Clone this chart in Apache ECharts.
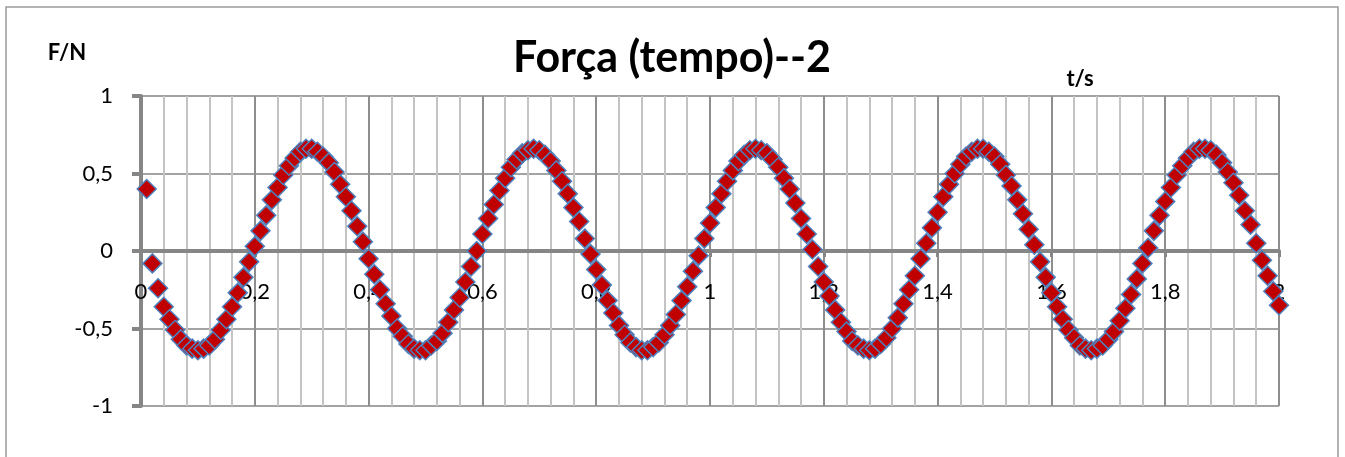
<!DOCTYPE html>
<html>
<head>
<meta charset="utf-8">
<title>Força (tempo)--2</title>
<script src="https://cdn.jsdelivr.net/npm/echarts@6/dist/echarts.min.js"></script>
<style>
  html, body { margin: 0; padding: 0; background: #ffffff; }
  #chart { width: 1345px; height: 457px; }
</style>
</head>
<body>
<div id="chart"></div>
<script>
// Measured force samples (N), one every 0.01 s starting at t = 0.01 s
const sampleStep = 0.01;
const forceValues = [
  0.40, -0.08, -0.24, -0.36, -0.44, -0.51, -0.57, -0.61, -0.63, -0.64,
  -0.63, -0.61, -0.57, -0.51, -0.44, -0.36, -0.27, -0.17, -0.07, 0.03,
  0.13, 0.23, 0.33, 0.41, 0.49, 0.55, 0.60, 0.64, 0.66, 0.66,
  0.64, 0.61, 0.57, 0.51, 0.43, 0.35, 0.26, 0.16, 0.06, -0.05,
  -0.15, -0.25, -0.34, -0.42, -0.50, -0.55, -0.60, -0.63, -0.64, -0.64,
  -0.61, -0.58, -0.53, -0.46, -0.38, -0.30, -0.20, -0.10, 0.00, 0.11,
  0.21, 0.30, 0.39, 0.47, 0.54, 0.59, 0.63, 0.65, 0.66, 0.65,
  0.62, 0.58, 0.52, 0.45, 0.37, 0.28, 0.19, 0.08, -0.02, -0.12,
  -0.22, -0.32, -0.40, -0.48, -0.54, -0.59, -0.62, -0.64, -0.64, -0.62,
  -0.59, -0.54, -0.48, -0.41, -0.32, -0.23, -0.13, -0.03, 0.08, 0.18,
  0.28, 0.37, 0.45, 0.52, 0.58, 0.62, 0.65, 0.66, 0.65, 0.63,
  0.59, 0.54, 0.47, 0.40, 0.31, 0.21, 0.11, 0.01, -0.10, -0.20,
  -0.29, -0.38, -0.46, -0.52, -0.58, -0.61, -0.63, -0.64, -0.63, -0.60,
  -0.56, -0.50, -0.43, -0.34, -0.25, -0.16, -0.05, 0.05, 0.15, 0.25,
  0.35, 0.43, 0.50, 0.56, 0.61, 0.64, 0.66, 0.66, 0.64, 0.61,
  0.56, 0.49, 0.42, 0.33, 0.24, 0.14, 0.04, -0.07, -0.17, -0.27,
  -0.36, -0.44, -0.51, -0.56, -0.61, -0.63, -0.64, -0.63, -0.61, -0.57,
  -0.52, -0.45, -0.37, -0.28, -0.18, -0.08, 0.02, 0.13, 0.23, 0.32,
  0.41, 0.49, 0.55, 0.60, 0.64, 0.66, 0.66, 0.65, 0.62, 0.57,
  0.51, 0.44, 0.36, 0.26, 0.17, 0.05, -0.06, -0.16, -0.26, -0.35
];

// Axis ranges and labels
const chartTitle = 'Força (tempo)--2';
const yAxisTitle = 'F/N';
const xAxisTitle = 't/s';
const xRange = [0, 2];
const xStep = 0.2;
const yRange = [-1, 1];
const yStep = 0.5;

const points = forceValues.map((f, i) => [+((i + 1) * sampleStep).toFixed(2), f]);

const decimalComma = v => String(+(+v).toFixed(2)).replace('.', ',');
const FONT = 'Lato, "Noto Sans", "Liberation Sans", sans-serif';
const AXIS_GREY = '#868686';

// plot box in pixels
const GRID = { left: 141, right: 66, top: 96, bottom: 51 };
const plotHeight = 457 - GRID.top - GRID.bottom;
// the time axis sits on F = 0, so lift it from the bottom edge by the matching share of the height
const zeroLift = plotHeight * (0 - yRange[0]) / (yRange[1] - yRange[0]);

const chart = echarts.init(document.getElementById('chart'), null, { renderer: 'canvas' });

chart.setOption({
  animation: false,
  backgroundColor: '#ffffff',
  textStyle: { fontFamily: FONT },
  grid: Object.assign({ containLabel: false }, GRID),
  graphic: [
    {
      type: 'rect', silent: true, z: -10,
      shape: { x: 6, y: 7, width: 1332, height: 480 },
      style: { fill: 'none', stroke: '#9a9a9a', lineWidth: 1.5 }
    },
    {
      type: 'text', x: 672, y: 58,
      style: { text: chartTitle, font: 'bold 43px ' + FONT, fill: '#000', align: 'center', verticalAlign: 'middle' }
    },
    {
      type: 'text', x: 67, y: 53,
      style: { text: yAxisTitle, font: 'bold 22px ' + FONT, fill: '#000', align: 'center', verticalAlign: 'middle' }
    },
    {
      type: 'text', x: 1080, y: 79,
      style: { text: xAxisTitle, font: 'bold 22px ' + FONT, fill: '#000', align: 'center', verticalAlign: 'middle' }
    }
  ],
  xAxis: {
    type: 'value',
    position: 'bottom',
    offset: -zeroLift,
    min: xRange[0], max: xRange[1], interval: xStep,
    axisLine: { onZero: false, lineStyle: { color: AXIS_GREY, width: 4 } },
    axisTick: { show: true, inside: false, length: 6, lineStyle: { color: AXIS_GREY, width: 3 } },
    axisLabel: {
      margin: 30, color: '#000', fontSize: 22, fontFamily: FONT,
      showMinLabel: true, showMaxLabel: true,
      formatter: decimalComma
    },
    splitLine: { show: true, lineStyle: { color: '#8e8e8e', width: 2 } },
    minorTick: { show: false, splitNumber: 5 },
    minorSplitLine: { show: true, lineStyle: { color: '#c4c4c4', width: 2 } }
  },
  yAxis: {
    type: 'value',
    min: yRange[0], max: yRange[1], interval: yStep,
    axisLine: { show: true, onZero: false, lineStyle: { color: AXIS_GREY, width: 4 } },
    axisTick: { show: true, inside: false, length: 9, lineStyle: { color: AXIS_GREY, width: 4 } },
    axisLabel: { margin: 28, color: '#000', fontSize: 22, fontFamily: FONT, formatter: decimalComma },
    splitLine: { show: true, lineStyle: { color: '#a3a3a3', width: 2 } }
  },
  series: [{
    type: 'scatter',
    data: points,
    symbol: 'diamond',
    symbolSize: 19,
    itemStyle: { color: '#c00000', borderColor: '#4f81bd', borderWidth: 1.5, opacity: 1 },
    emphasis: { disabled: true }
  }]
});
</script>
</body>
</html>
